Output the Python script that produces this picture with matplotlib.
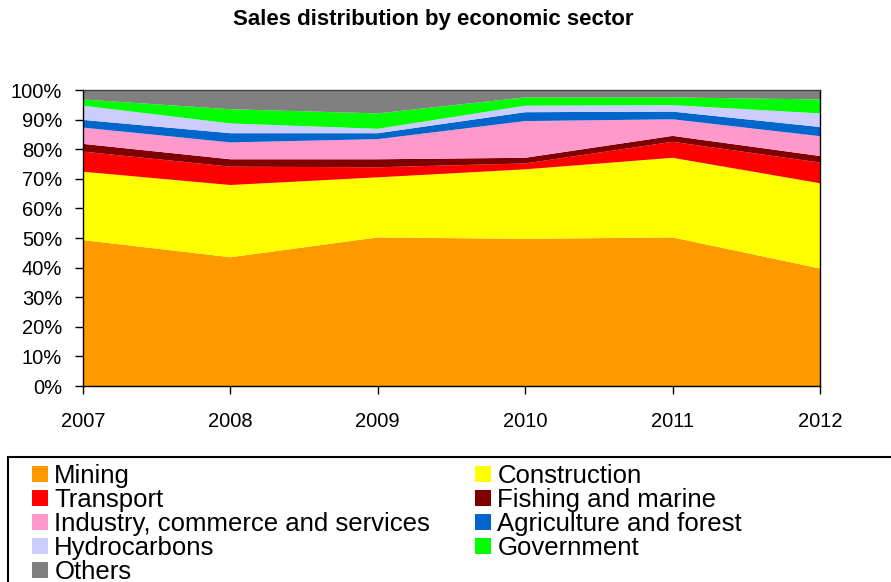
import matplotlib
matplotlib.use('Agg')
import matplotlib.pyplot as plt
import matplotlib.patches as mpatches
import numpy as np

plt.rcParams['font.family'] = ['Liberation Sans', 'DejaVu Sans']

years = [2007, 2008, 2009, 2010, 2011, 2012]

# shares of sales per sector, in percent
mining = [49.3, 43.5, 50.2, 49.7, 50.2, 39.7]
construction = [23.1, 24.4, 20.3, 23.5, 26.9, 28.8]
transport = [6.8, 6.2, 3.4, 2.0, 5.4, 7.0]
fishing = [2.6, 2.5, 2.7, 1.9, 2.0, 2.2]
industry = [5.5, 5.7, 6.8, 12.4, 5.6, 6.7]
agriculture = [2.6, 3.1, 2.0, 3.0, 2.6, 3.1]
hydrocarbons = [4.8, 3.3, 1.5, 2.2, 2.2, 4.6]
government = [2.1, 4.8, 5.2, 2.8, 2.6, 4.7]
others = [3.2, 6.5, 7.9, 2.5, 2.5, 3.2]

sectors = ['Mining', 'Construction', 'Transport', 'Fishing and marine',
           'Industry, commerce and services', 'Agriculture and forest',
           'Hydrocarbons', 'Government', 'Others']
colors = ['#FF9900', '#FFFF00', '#FF0000', '#800000', '#FF99CC',
          '#0066CC', '#CCCCFF', '#00FF00', '#808080']

W, H = 891, 582
fig = plt.figure(figsize=(W / 100, H / 100), dpi=100)
ax = fig.add_axes([83 / W, 1 - 386 / H, (820 - 83) / W, (386 - 90) / H])

polys = ax.stackplot(years, mining, construction, transport, fishing, industry,
                     agriculture, hydrocarbons, government, others,
                     colors=colors, labels=sectors, linewidth=0)

ax.set_xlim(2007, 2012)
ax.set_ylim(0, 100)
ax.set_xticks(years)
ax.set_yticks(np.arange(0, 101, 10))
ax.set_yticklabels(['%d%%' % v for v in range(0, 101, 10)])
ax.tick_params(axis='both', direction='out', length=6, width=1, labelsize=14.5, colors='black')
ax.tick_params(axis='x', pad=13)
ax.tick_params(axis='y', pad=9)
for s in ax.spines.values():
    s.set_linewidth(1)
    s.set_color('black')
ax.spines['top'].set_color('#404040')

fig.text(433 / W, 1 - 20 / H, 'Sales distribution by economic sector',
         ha='center', va='center', fontsize=16, fontweight='bold')

# legend frame runs off the bottom and right edge
fig.patches.append(mpatches.Rectangle((8 / W, -0.1), 1.0, (1 - 457 / H) + 0.1,
                                      transform=fig.transFigure, fill=False,
                                      edgecolor='black', linewidth=1.5))

order1 = [0, 2, 4, 6, 8]
order2 = [1, 3, 5, 7]
leg_kw = dict(loc='upper left', frameon=False, fontsize=18.5, borderpad=0,
              borderaxespad=0, handlelength=0.62, handleheight=0.62,
              handletextpad=0.25, labelspacing=0.0)
leg1 = fig.legend([polys[i] for i in order1], [sectors[i] for i in order1],
                  bbox_to_anchor=(32 / W, 1 - 464 / H), **leg_kw)
leg2 = fig.legend([polys[i] for i in order2], [sectors[i] for i in order2],
                  bbox_to_anchor=(475 / W, 1 - 464 / H), **leg_kw)

fig.savefig('out.png', dpi=100)
